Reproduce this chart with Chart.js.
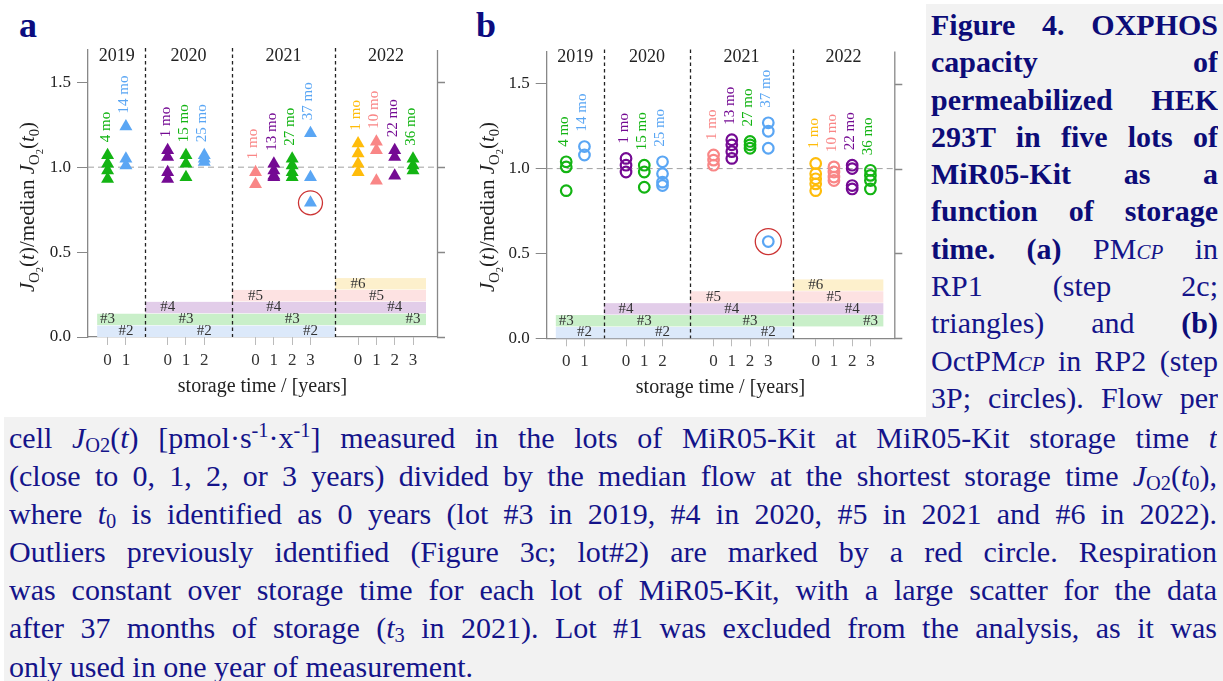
<!DOCTYPE html>
<html>
<head>
<meta charset="utf-8">
<script src="https://cdn.jsdelivr.net/npm/chart.js@4.4.1/dist/chart.umd.min.js"></script>
<style>
  body { margin: 0; width: 1223px; height: 681px; background: #fff; position: relative; overflow: hidden; font-family: "Liberation Serif", serif; }
  canvas { position: absolute; top: 0; }
  .panel { position: absolute; top: 7px; font-weight: bold; font-size: 36px; line-height: 36px; color: #0c0c80; }
  .cap { position: absolute; background: #f2f2f2; color: #14148a; font-size: 30px; box-sizing: border-box; }
  #capR { left: 926px; top: 4px; width: 297px; height: 413px; padding: 2px 5px 0 5px; line-height: 37.3px; }
  #capB { left: 4px; top: 417px; width: 1219px; height: 264px; padding: 2px 6px 0 5px; line-height: 38.1px; }
  .ln { text-align: justify; text-align-last: justify; overflow: hidden; }
  #capR .ln { height: 37.3px; }
  #capB .ln { height: 38.1px; }
  #capR b { color: #0c0c78; }
  .ln.last { text-align-last: left; }
  .sc { font-style: italic; font-variant: small-caps; }
  sub, sup { font-size: 0.68em; line-height: 0; }
  sub { vertical-align: -0.22em; }
  sup { vertical-align: 0.55em; }
</style>
</head>
<body>
<div class="panel" style="left:19px">a</div>
<div class="panel" style="left:476px">b</div>
<canvas id="chartA" width="460" height="410" style="left:0"></canvas>
<canvas id="chartB" width="460" height="410" style="left:460px"></canvas>

<div id="capR" class="cap">
  <div class="ln"><b>Figure 4. OXPHOS</b></div>
  <div class="ln"><b>capacity of</b></div>
  <div class="ln"><b>permeabilized HEK</b></div>
  <div class="ln"><b>293T in five lots of</b></div>
  <div class="ln"><b>MiR05-Kit as a</b></div>
  <div class="ln"><b>function of storage</b></div>
  <div class="ln"><b>time. (a)</b> PM<span class="sc">cp</span> in</div>
  <div class="ln">RP1 (step 2c;</div>
  <div class="ln">triangles) and <b>(b)</b></div>
  <div class="ln">OctPM<span class="sc">cp</span> in RP2 (step</div>
  <div class="ln">3P; circles). Flow per</div>
</div>
<div id="capB" class="cap">
  <div class="ln">cell <i>J</i><sub>O2</sub>(<i>t</i>) [pmol·s<sup>-1</sup>·x<sup>-1</sup>] measured in the lots of MiR05-Kit at MiR05-Kit storage time <i>t</i></div>
  <div class="ln">(close to 0, 1, 2, or 3 years) divided by the median flow at the shortest storage time <i>J</i><sub>O2</sub>(<i>t</i><sub>0</sub>),</div>
  <div class="ln">where <i>t</i><sub>0</sub> is identified as 0 years (lot #3 in 2019, #4 in 2020, #5 in 2021 and #6 in 2022).</div>
  <div class="ln">Outliers previously identified (Figure 3c; lot#2) are marked by a red circle. Respiration</div>
  <div class="ln">was constant over storage time for each lot of MiR05-Kit, with a large scatter for the data</div>
  <div class="ln">after 37 months of storage (<i>t</i><sub>3</sub> in 2021). Lot #1 was excluded from the analysis, as it was</div>
  <div class="ln last">only used in one year of measurement.</div>
</div>

<script>
  // years and where each year panel sits on the storage-time axis
  const years = ['2019', '2020', '2021', '2022'];
  const yearOffset = [1.07, 4.35, 9.15, 14.75];
  const yearBounds = [0, 3.13, 7.86, 13.49, 19.06];

  // lots and the years (first, last) each lot was measured
  const lots = ['#2', '#3', '#4', '#5', '#6'];
  const lotYears = [[0, 2], [0, 3], [1, 3], [2, 3], [3, 3]];

  // measurement groups: year index, storage time (years), lot index, age label
  const groupYear = [0, 0, 1, 1, 1, 2, 2, 2, 2, 3, 3, 3, 3];
  const groupT = [0, 1, 0, 1, 2, 0, 1, 2, 3, 0, 1, 2, 3];
  const groupLot = [1, 0, 2, 1, 0, 3, 2, 1, 0, 4, 3, 2, 1];
  const groupMonths = ['4 mo', '14 mo', '1 mo', '15 mo', '25 mo', '1 mo', '13 mo', '27 mo', '37 mo', '1 mo', '10 mo', '22 mo', '36 mo'];

  // (a) PMcp in RP1, triangles
  const valuesA = [
    [1.07, 1.02, 0.98, 0.93],
    [1.24, 1.05, 1.01],
    [1.10, 1.06, 0.97, 0.93],
    [1.07, 1.02, 0.94],
    [1.07, 1.05, 1.03],
    [0.97, 0.90],
    [1.02, 0.98, 0.95, 0.94],
    [1.05, 1.01, 0.97, 0.94],
    [1.20, 0.94, 0.79],
    [1.14, 1.08, 1.02, 0.97],
    [1.15, 1.10, 0.92],
    [1.10, 1.06, 0.95],
    [1.05, 1.01, 0.98]
  ];
  // (b) OctPMcp in RP2, circles
  const valuesB = [
    [1.04, 1.01, 0.87],
    [1.13, 1.08],
    [1.06, 1.02, 0.98],
    [1.02, 0.98, 0.89],
    [1.04, 0.97, 0.92, 0.90],
    [1.08, 1.05, 1.02],
    [1.17, 1.14, 1.10, 1.06],
    [1.16, 1.14, 1.12],
    [1.27, 1.22, 1.12, 0.57],
    [1.03, 0.97, 0.94, 0.91, 0.87],
    [1.01, 0.98, 0.95, 0.93],
    [1.02, 1.00, 0.90, 0.88],
    [0.99, 0.96, 0.93, 0.88]
  ];
  // outliers of lot #2 (red circle)
  const outlierGroup = 8;
  const outlierA = 0.79;
  const outlierB = 0.57;

  const yTicks = [0, 0.5, 1.0, 1.5];

  const lotColors = ['#5aa6f4', '#13b413', '#740a93', '#f98686', '#ffbc0a'];
  const bandColors = ['#dce9fa', '#c9efc9', '#e2cde9', '#fde2e2', '#fdf0cc'];
  const FONT = 'Liberation Serif';

  const groupX = groupYear.map((y, g) => yearOffset[y] + groupT[g]);
  const tickLabels = groupT.map(t => String(t));

  function drawRich(ctx, segs, cx, cy, size) {
    ctx.save();
    ctx.translate(cx, cy);
    ctx.rotate(-Math.PI / 2);
    ctx.textBaseline = 'alphabetic';
    ctx.textAlign = 'left';
    let total = 0;
    segs.forEach(s => {
      ctx.font = s[1] + ' ' + (size * s[2]) + 'px "' + FONT + '"';
      total += ctx.measureText(s[0]).width;
    });
    let x = -total / 2;
    segs.forEach(s => {
      ctx.font = s[1] + ' ' + (size * s[2]) + 'px "' + FONT + '"';
      ctx.fillText(s[0], x, s[3] * size);
      x += ctx.measureText(s[0]).width;
    });
    ctx.restore();
  }

  const yTitle = [
    ['J', 'italic', 1, 0], ['O', '', 0.7, 0.25], ['2', '', 0.5, 0.42], ['(', '', 1, 0], ['t', 'italic', 1, 0], [')/median ', '', 1, 0],
    ['J', 'italic', 1, 0], ['O', '', 0.7, 0.25], ['2', '', 0.5, 0.42], ['(', '', 1, 0], ['t', 'italic', 1, 0], ['0', '', 0.7, 0.25], [')', '', 1, 0]
  ];

  const decor = {
    id: 'decor',
    beforeDatasetsDraw(chart, args, opts) {
      const { ctx, chartArea: ca, scales: { x, y } } = chart;
      ctx.save();
      // lot bands
      lots.forEach((lot, i) => {
        const first = lotYears[i][0], last = lotYears[i][1];
        const x0 = x.getPixelForValue(first === 0 ? 0.5 : yearBounds[first]);
        const x1 = x.getPixelForValue(last === 3 ? 18.46 : yearBounds[last + 1]);
        const yb = y.getPixelForValue(i * 0.07), yt = y.getPixelForValue(i * 0.07 + 0.067);
        ctx.fillStyle = bandColors[i];
        ctx.fillRect(x0, yt, x1 - x0, yb - yt);
      });
      // band labels at each measurement of the lot
      ctx.font = '15px "' + FONT + '"';
      ctx.fillStyle = '#333';
      ctx.textAlign = 'center';
      ctx.textBaseline = 'middle';
      groupLot.forEach((li, g) => {
        ctx.fillText(lots[li], x.getPixelForValue(groupX[g]), y.getPixelForValue(li * 0.07 + 0.034));
      });
      // median line
      ctx.strokeStyle = '#a0a0a0';
      ctx.lineWidth = 1;
      ctx.setLineDash([6, 4]);
      ctx.beginPath();
      ctx.moveTo(ca.left, y.getPixelForValue(1));
      ctx.lineTo(ca.right, y.getPixelForValue(1));
      ctx.stroke();
      // year separators
      ctx.strokeStyle = '#222';
      ctx.lineWidth = 1.3;
      ctx.setLineDash([3.5, 3]);
      yearBounds.slice(1, 4).forEach(b => {
        const px = Math.round(x.getPixelForValue(b)) + 0.5;
        ctx.beginPath();
        ctx.moveTo(px, ca.top - 2);
        ctx.lineTo(px, ca.bottom);
        ctx.stroke();
      });
      ctx.setLineDash([]);
      // year labels
      ctx.font = '18px "' + FONT + '"';
      ctx.fillStyle = '#222';
      years.forEach((yr, i) => {
        ctx.fillText(yr, x.getPixelForValue((yearBounds[i] + yearBounds[i + 1]) / 2), ca.top + 6);
      });
      ctx.restore();
    },
    afterDatasetsDraw(chart, args, opts) {
      const { ctx, chartArea: ca, scales: { x, y } } = chart;
      const values = opts.values;
      ctx.save();
      // age labels above each group
      ctx.font = '15px "' + FONT + '"';
      ctx.textAlign = 'left';
      ctx.textBaseline = 'middle';
      groupMonths.forEach((m, g) => {
        const top = Math.max(...values[g]);
        ctx.save();
        ctx.translate(x.getPixelForValue(groupX[g]) - 2, y.getPixelForValue(top) - opts.gap);
        ctx.rotate(-Math.PI / 2);
        ctx.fillStyle = lotColors[groupLot[g]];
        ctx.fillText(m, 0, 0);
        ctx.restore();
      });
      // outlier ring
      ctx.strokeStyle = '#cc3333';
      ctx.lineWidth = 1.3;
      ctx.beginPath();
      ctx.arc(x.getPixelForValue(groupX[outlierGroup]), y.getPixelForValue(opts.outlier), opts.ring, 0, Math.PI * 2);
      ctx.stroke();
      // right axis
      ctx.strokeStyle = '#888';
      ctx.lineWidth = 1.3;
      ctx.beginPath();
      ctx.moveTo(ca.right + 0.5, ca.top);
      ctx.lineTo(ca.right + 0.5, ca.bottom);
      yTicks.forEach(v => {
        const py = Math.round(y.getPixelForValue(v)) + 0.5;
        ctx.moveTo(ca.right, py);
        ctx.lineTo(ca.right + 8, py);
      });
      ctx.stroke();
      // y title
      ctx.fillStyle = '#222';
      drawRich(ctx, yTitle, 34, 207, 21);
      ctx.restore();
    }
  };

  function makeChart(id, values, outlier, marker, box) {
    const datasets = lots.map((lot, li) => {
      const pts = [];
      groupLot.forEach((l, g) => {
        if (l === li) values[g].forEach(v => pts.push({ x: groupX[g], y: v }));
      });
      return {
        label: lot,
        data: pts,
        pointStyle: marker.style,
        pointRadius: marker.radius,
        backgroundColor: marker.filled ? lotColors[li] : 'rgba(0,0,0,0)',
        borderColor: lotColors[li],
        borderWidth: marker.filled ? 0 : 2.2
      };
    });
    return new Chart(document.getElementById(id), {
      type: 'scatter',
      data: { datasets },
      options: {
        responsive: false,
        animation: false,
        events: [],
        devicePixelRatio: 1,
        layout: { padding: { top: box.top, right: box.right, left: 0, bottom: 0 } },
        plugins: {
          legend: { display: false },
          tooltip: { enabled: false },
          decor: { values, outlier, gap: marker.gap, ring: marker.ring }
        },
        scales: {
          x: {
            type: 'linear',
            min: 0,
            max: yearBounds[4],
            afterBuildTicks: s => { s.ticks = groupX.map(v => ({ value: v })); },
            afterFit: s => { s.height = box.xh; },
            ticks: { autoSkip: false, maxRotation: 0, padding: 5, color: '#333', font: { family: FONT, size: 17 }, callback: (v, i) => tickLabels[i] },
            grid: { drawOnChartArea: false, tickLength: 8, color: '#bbb' },
            border: { color: '#888', width: 1.3 },
            title: { display: true, text: 'storage time / [years]', color: '#222', font: { family: FONT, size: 20 }, padding: { top: 0, bottom: box.tb } }
          },
          y: {
            min: 0,
            max: 1.69,
            afterBuildTicks: s => { s.ticks = yTicks.map(v => ({ value: v })); },
            afterFit: s => { s.width = box.yw; },
            ticks: { padding: 6, color: '#222', font: { family: FONT, size: 17 }, callback: v => v.toFixed(1) },
            grid: { drawOnChartArea: false, tickLength: 11, color: '#888' },
            border: { color: '#888', width: 1.3 }
          }
        }
      },
      plugins: [decor]
    });
  }

  makeChart('chartA', valuesA, outlierA,
    { style: 'triangle', radius: 7.5, filled: true, gap: 13, ring: 12 },
    { top: 50, right: 23, yw: 88, xh: 73, tb: 11 });
  makeChart('chartB', valuesB, outlierB,
    { style: 'circle', radius: 5.3, filled: false, gap: 15, ring: 13 },
    { top: 51.5, right: 25.7, yw: 86.7, xh: 71.7, tb: 10.7 });
</script>
</body>
</html>
